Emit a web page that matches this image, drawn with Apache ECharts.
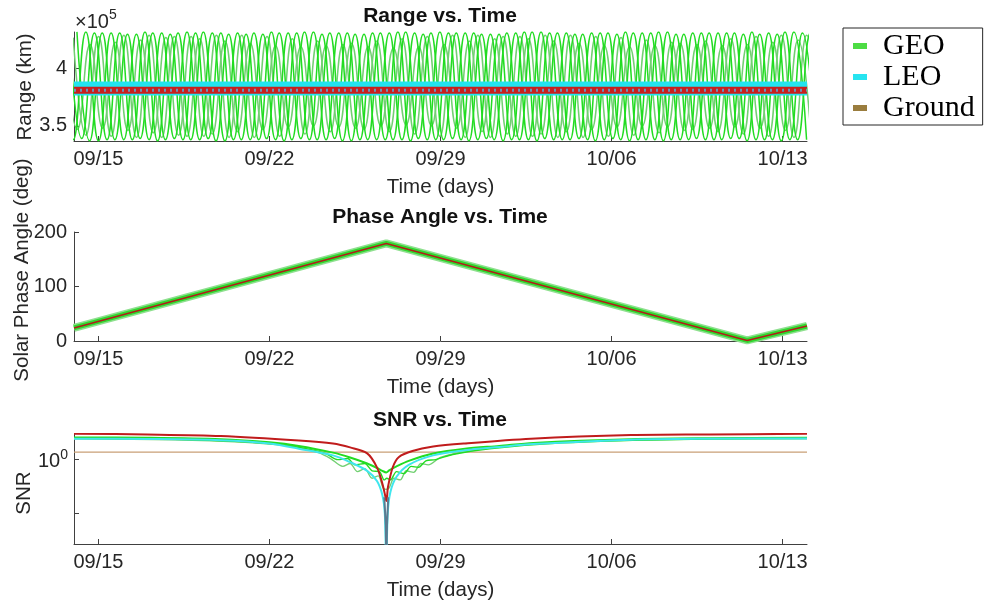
<!DOCTYPE html>
<html>
<head>
<meta charset="utf-8">
<title>Range / Phase Angle / SNR vs. Time</title>
<script src="https://cdn.jsdelivr.net/npm/echarts@6/dist/echarts.min.js"></script>
<style>
  html, body { margin: 0; padding: 0; background: #fff; }
  #chart { width: 987px; height: 605px; }
</style>
</head>
<body>
<div id="chart"></div>
<script>
// x axis: days counted from 1 Sep (14 = 09/15)
var tickDays = [14, 21, 28, 35, 42];
var tickLabels = ['09/15', '09/22', '09/29', '10/06', '10/13'];

// --- Range vs. Time (units of 1e5 km) ---
var geoPeriod = 1.035;
var geoFirstPeak = [12.45, 12.80, 13.12, 12.62, 12.97];
var geo1Peaks   = [4.31,4.32,4.31,4.30,4.31,4.32,4.31,4.31,4.30,4.31,4.32,4.31,4.30,4.31,4.31,4.32,4.31,4.30,4.31,4.32,4.31,4.31,4.30,4.31,4.32,4.31,4.31,4.30,4.31,4.32];
var geo1Troughs = [3.38,3.37,3.38,3.38,3.39,3.38,3.37,3.38,3.38,3.39,3.38,3.37,3.38,3.38,3.38,3.39,3.38,3.37,3.38,3.38,3.39,3.38,3.37,3.38,3.38,3.38,3.39,3.38,3.37,3.38];
var geo2Peaks   = [4.30,4.31,4.31,4.32,4.30,4.31,4.31,4.30,4.32,4.31,4.30,4.31,4.31,4.32,4.30,4.31,4.31,4.30,4.32,4.31,4.30,4.31,4.32,4.31,4.30,4.31,4.31,4.32,4.30,4.31];
var geo2Troughs = [3.39,3.38,3.38,3.37,3.38,3.39,3.38,3.38,3.37,3.38,3.39,3.38,3.38,3.37,3.38,3.38,3.39,3.38,3.37,3.38,3.38,3.39,3.38,3.37,3.38,3.38,3.39,3.38,3.38,3.37];
var geo3Peaks   = [4.32,4.31,4.30,4.31,4.31,4.32,4.30,4.31,4.31,4.32,4.31,4.30,4.31,4.32,4.31,4.31,4.30,4.31,4.32,4.31,4.30,4.31,4.31,4.32,4.30,4.31,4.31,4.30,4.32,4.31];
var geo3Troughs = [3.37,3.38,3.39,3.38,3.38,3.37,3.38,3.39,3.38,3.38,3.37,3.38,3.38,3.39,3.38,3.37,3.38,3.38,3.39,3.38,3.37,3.38,3.38,3.38,3.39,3.38,3.37,3.38,3.38,3.39];
var geo4Peaks   = [4.22,4.21,4.23,4.25,4.27,4.28,4.29,4.29,4.28,4.26,4.24,4.21,4.19,4.18,4.19,4.21,4.24,4.26,4.28,4.29,4.29,4.28,4.27,4.25,4.23,4.21,4.20,4.21,4.23,4.25];
var geo4Troughs = [3.47,3.48,3.46,3.44,3.42,3.41,3.40,3.40,3.41,3.43,3.45,3.48,3.50,3.51,3.50,3.48,3.45,3.43,3.41,3.40,3.40,3.41,3.42,3.44,3.46,3.48,3.49,3.48,3.46,3.44];
var geo5Peaks   = [4.27,4.28,4.29,4.29,4.28,4.26,4.24,4.22,4.20,4.19,4.20,4.22,4.24,4.26,4.28,4.29,4.29,4.28,4.26,4.24,4.22,4.20,4.19,4.20,4.22,4.24,4.26,4.28,4.29,4.29];
var geo5Troughs = [3.42,3.41,3.40,3.40,3.41,3.43,3.45,3.47,3.49,3.50,3.49,3.47,3.45,3.43,3.41,3.40,3.40,3.41,3.43,3.45,3.47,3.49,3.50,3.49,3.47,3.45,3.43,3.41,3.40,3.40];

var rangeDays = [13, 20, 28, 35, 43];
var leoRange  = [3.826, 3.826, 3.827, 3.826, 3.826];
var redRange  = [3.811, 3.812, 3.811, 3.812, 3.811];

// --- Phase Angle vs. Time (deg) ---
var phaseDays = [13, 25.78, 40.55, 43];
var geoPhase  = [24, 179, 1, 27.5];
var redPhase  = [24, 179, 1, 27.5];

// --- SNR vs. Time ---
var redSnrDays = [13, 16, 19, 22.2, 23.6, 24.3, 25, 25.4, 25.62, 25.75, 25.78, 25.81, 25.85, 26.05, 26.3, 26.85, 27.7, 29, 31.7, 35.8, 39, 43];
var redSnr     = [3.03, 2.94, 2.76, 2.28, 2.0, 1.69, 1.31, 0.72, 0.36, 0.2, 0.17, 0.2, 0.31, 0.73, 1.12, 1.45, 1.75, 2.0, 2.45, 2.86, 2.94, 3.03];

var geoSnrDays = [13, 16, 19, 21, 22.2, 23.6, 24.3, 25, 25.4, 25.62, 25.78, 25.9, 26.2, 26.7, 27.7, 29, 30.4, 31.8, 35.8, 39, 43];
var geoSnr     = [2.59, 2.55, 2.4, 2.1, 1.8, 1.35, 1.1, 0.85, 0.7, 0.62, 0.58, 0.63, 0.75, 0.95, 1.3, 1.6, 1.8, 2.05, 2.4, 2.5, 2.55];

var geoWigDays = [13, 17, 20, 22, 23, 23.5, 24, 24.3, 24.6, 24.9, 25.2, 25.45, 25.65, 25.78, 25.9, 26.1, 26.35, 26.6, 26.9, 27.2, 27.5, 28, 29, 31, 34, 38, 43];
var geoWigSnr  = [2.45, 2.35, 2.1, 1.75, 1.35, 1.05, 0.75, 0.85, 0.6, 0.68, 0.45, 0.5, 0.3, 0.28, 0.3, 0.45, 0.42, 0.62, 0.58, 0.85, 0.8, 1.1, 1.4, 1.85, 2.2, 2.4, 2.45];

var geoWig2Days = [13, 18, 21, 22.5, 23.3, 23.8, 24.2, 24.5, 24.9, 25.2, 25.5, 25.7, 25.8, 25.95, 26.2, 26.5, 26.8, 27.1, 27.4, 27.8, 28.5, 30, 33, 37, 43];
var geoWig2Snr  = [2.5, 2.35, 2.0, 1.6, 1.3, 1.0, 1.05, 0.8, 0.85, 0.62, 0.6, 0.42, 0.45, 0.42, 0.6, 0.55, 0.75, 0.72, 0.95, 1.0, 1.25, 1.6, 2.05, 2.35, 2.5];

var leoSnrDays = [13, 16, 19, 21, 22.2, 23.6, 24.3, 25, 25.4, 25.62, 25.72, 25.78, 25.84, 25.95, 26.2, 26.7, 27.7, 29, 30.4, 31.8, 35.8, 39, 43];
var leoSnr     = [2.45, 2.42, 2.3, 2.0, 1.6, 1.2, 0.9, 0.62, 0.4, 0.22, 0.1, 0.012, 0.1, 0.25, 0.48, 0.8, 1.2, 1.5, 1.72, 1.95, 2.35, 2.45, 2.48];

var spikeDays = [25.7, 25.76, 25.785, 25.81, 25.86];
var spikeSnr  = [0.2, 0.06, 0.01, 0.06, 0.2];

var groundSnrDays = [13, 28, 43];
var groundSnr     = [1.38, 1.38, 1.38];

function zip(xs, ys) {
    return xs.map(function (x, i) { return [x, ys[i]]; });
}
function geoWave(t0, peaks, troughs) {
    var pts = [];
    for (var k = 0; k < peaks.length; k++) {
        pts.push([t0 + k * geoPeriod, peaks[k]]);
        pts.push([t0 + (k + 0.5) * geoPeriod, troughs[k]]);
    }
    return pts;
}

var FONT = 'Liberation Sans, Arial, sans-serif';
var TXT = '#262626';
var AX = '#404040';

function xAxisFor(gi) {
    return {
        type: 'value', gridIndex: gi, min: 13, max: 43,
        name: 'Time (days)', nameLocation: 'middle', nameGap: 36,
        nameTextStyle: { fontFamily: FONT, fontSize: 20.5, color: TXT },
        axisLine: { show: true, onZero: false, lineStyle: { color: AX, width: 1 } },
        axisTick: { show: true, inside: true, length: 5, customValues: tickDays, lineStyle: { color: AX } },
        axisLabel: {
            customValues: tickDays, margin: 8,
            fontFamily: FONT, fontSize: 20, color: TXT,
            formatter: function (v) { return tickLabels[tickDays.indexOf(v)]; }
        },
        splitLine: { show: false }
    };
}

var geoBright = '#22dc22', geoPale = '#72d072';
var series = [];
var geoSets = [
    [geo4Peaks, geo4Troughs, geoPale], [geo5Peaks, geo5Troughs, geoPale],
    [geo1Peaks, geo1Troughs, geoBright], [geo2Peaks, geo2Troughs, geoBright], [geo3Peaks, geo3Troughs, geoBright]
];
geoSets.forEach(function (s, i) {
    var idx = i < 2 ? i + 3 : i - 2;
    series.push({
        name: 'GEO', type: 'line', xAxisIndex: 0, yAxisIndex: 0, smooth: true,
        showSymbol: false, symbol: 'none',
        lineStyle: { color: s[2], width: 1.5 },
        data: geoWave(geoFirstPeak[idx], s[0], s[1])
    });
});
series.push(
    { name: 'LEO', type: 'line', xAxisIndex: 0, yAxisIndex: 0, symbol: 'none',
      lineStyle: { color: '#22e4f0', width: 14 }, data: zip(rangeDays, leoRange) },
    { name: 'Target', type: 'line', xAxisIndex: 0, yAxisIndex: 0, symbol: 'none',
      lineStyle: { color: '#c8201e', width: 7 }, data: zip(rangeDays, redRange) },
    { name: 'Target', type: 'line', xAxisIndex: 0, yAxisIndex: 0, symbol: 'none',
      lineStyle: { color: '#7391b8', width: 3, type: [2, 4] }, data: zip(rangeDays, redRange) },

    { name: 'GEO', type: 'line', xAxisIndex: 1, yAxisIndex: 1, symbol: 'none',
      lineStyle: { color: '#8fe08f', width: 8 }, data: zip(phaseDays, geoPhase) },
    { name: 'GEO', type: 'line', xAxisIndex: 1, yAxisIndex: 1, symbol: 'none',
      lineStyle: { color: '#30d830', width: 5 }, data: zip(phaseDays, geoPhase) },
    { name: 'Target', type: 'line', xAxisIndex: 1, yAxisIndex: 1, symbol: 'none',
      lineStyle: { color: '#b01e18', width: 1.6 }, data: zip(phaseDays, redPhase) },

    { name: 'Ground', type: 'line', xAxisIndex: 2, yAxisIndex: 2, symbol: 'none',
      lineStyle: { color: '#c9a077', width: 1.3 }, data: zip(groundSnrDays, groundSnr) },
    { name: 'GEO', type: 'line', xAxisIndex: 2, yAxisIndex: 2, symbol: 'none', smooth: 0.3,
      lineStyle: { color: geoPale, width: 1.4 }, data: zip(geoWigDays, geoWigSnr) },
    { name: 'GEO', type: 'line', xAxisIndex: 2, yAxisIndex: 2, symbol: 'none', smooth: 0.3,
      lineStyle: { color: geoBright, width: 1.4 }, data: zip(geoWig2Days, geoWig2Snr) },
    { name: 'GEO', type: 'line', xAxisIndex: 2, yAxisIndex: 2, symbol: 'none', smooth: 0.3,
      lineStyle: { color: geoBright, width: 2 }, data: zip(geoSnrDays, geoSnr) },
    { name: 'LEO', type: 'line', xAxisIndex: 2, yAxisIndex: 2, symbol: 'none', smooth: 0.3,
      lineStyle: { color: '#3fe6ee', width: 2 }, data: zip(leoSnrDays, leoSnr) },
    { name: 'Target', type: 'line', xAxisIndex: 2, yAxisIndex: 2, symbol: 'none', smooth: 0.3,
      lineStyle: { color: '#c01c1c', width: 2 }, data: zip(redSnrDays, redSnr) },
    { name: 'Target', type: 'line', xAxisIndex: 2, yAxisIndex: 2, symbol: 'none',
      lineStyle: { color: '#5b7a90', width: 2 }, data: zip(spikeDays, spikeSnr) }
);

var myChart = echarts.init(document.getElementById('chart'));
var option = {
    animation: false,
    backgroundColor: '#fff',
    title: [
        { text: 'Range vs. Time', left: 440, top: 6, textAlign: 'center', padding: 0,
          textStyle: { fontFamily: FONT, fontSize: 21, fontWeight: 'bold', color: '#111' } },
        { text: 'Phase Angle vs. Time', left: 440, top: 207, textAlign: 'center', padding: 0,
          textStyle: { fontFamily: FONT, fontSize: 21, fontWeight: 'bold', color: '#111' } },
        { text: 'SNR vs. Time', left: 440, top: 410, textAlign: 'center', padding: 0,
          textStyle: { fontFamily: FONT, fontSize: 21, fontWeight: 'bold', color: '#111' } }
    ],
    legend: {
        data: [
            { name: 'GEO', itemStyle: { color: '#4ddc44' } },
            { name: 'LEO', itemStyle: { color: '#26e4f0' } },
            { name: 'Ground', itemStyle: { color: '#9a7d3e' } }
        ],
        orient: 'vertical', left: 843, top: 28, padding: [3, 8, 2, 10], itemGap: 1,
        itemWidth: 14, itemHeight: 6, icon: 'rect', selectedMode: false,
        backgroundColor: '#fff', borderColor: '#262626', borderWidth: 1,
        textStyle: { fontFamily: 'Liberation Serif, Times New Roman, serif', fontSize: 30, color: '#000', padding: [0, 0, 0, 11] }
    },
    grid: [
        { left: 74, width: 733, top: 32, height: 109 },
        { left: 74, width: 733, top: 232, height: 109 },
        { left: 74, width: 733, top: 434, height: 110 }
    ],
    xAxis: [xAxisFor(0), xAxisFor(1), xAxisFor(2)],
    yAxis: [
        { type: 'value', gridIndex: 0, min: 3.369, max: 4.319,
          axisLine: { show: true, lineStyle: { color: AX } },
          axisTick: { show: true, inside: true, length: 5, customValues: [3.5, 4], lineStyle: { color: AX } },
          axisLabel: { customValues: [3.5, 4], margin: 7, fontFamily: FONT, fontSize: 20, color: TXT },
          splitLine: { show: false } },
        { type: 'value', gridIndex: 1, min: 0, max: 200, interval: 100,
          axisLine: { show: true, lineStyle: { color: AX } },
          axisTick: { show: true, inside: true, length: 5, lineStyle: { color: AX } },
          axisLabel: { margin: 7, fontFamily: FONT, fontSize: 20, color: TXT },
          splitLine: { show: false } },
        { type: 'log', logBase: 10, gridIndex: 2, min: 0.027, max: 3.0,
          axisLine: { show: true, lineStyle: { color: AX } },
          axisTick: { show: true, inside: true, length: 5, customValues: [0.1, 1], lineStyle: { color: AX } },
          axisLabel: { customValues: [1], margin: 6, fontFamily: FONT, fontSize: 20, color: TXT,
              formatter: function () { return '{b|10}{s|0}'; },
              rich: { b: { fontFamily: FONT, fontSize: 20, color: TXT, lineHeight: 24, verticalAlign: 'bottom' },
                      s: { fontFamily: FONT, fontSize: 14, color: TXT, lineHeight: 24, verticalAlign: 'top' } } },
          splitLine: { show: false }, minorTick: { show: false } }
    ],
    graphic: [
        { type: 'text', x: 25, y: 87, rotation: Math.PI / 2,
          style: { text: 'Range (km)', fontFamily: FONT, fontSize: 20.5, fill: TXT, align: 'center', verticalAlign: 'middle' } },
        { type: 'text', x: 22, y: 270, rotation: Math.PI / 2,
          style: { text: 'Solar Phase Angle (deg)', fontFamily: FONT, fontSize: 20.5, fill: TXT, align: 'center', verticalAlign: 'middle' } },
        { type: 'text', x: 24, y: 493, rotation: Math.PI / 2,
          style: { text: 'SNR', fontFamily: FONT, fontSize: 20.5, fill: TXT, align: 'center', verticalAlign: 'middle' } },
        { type: 'text', x: 75, y: 22,
          style: { text: '\u00d710', fontFamily: FONT, fontSize: 20, fill: TXT, align: 'left', verticalAlign: 'middle' } },
        { type: 'text', x: 109, y: 15,
          style: { text: '5', fontFamily: FONT, fontSize: 14, fill: TXT, align: 'left', verticalAlign: 'middle' } }
    ],
    series: series
};
myChart.setOption(option);
</script>
</body>
</html>
